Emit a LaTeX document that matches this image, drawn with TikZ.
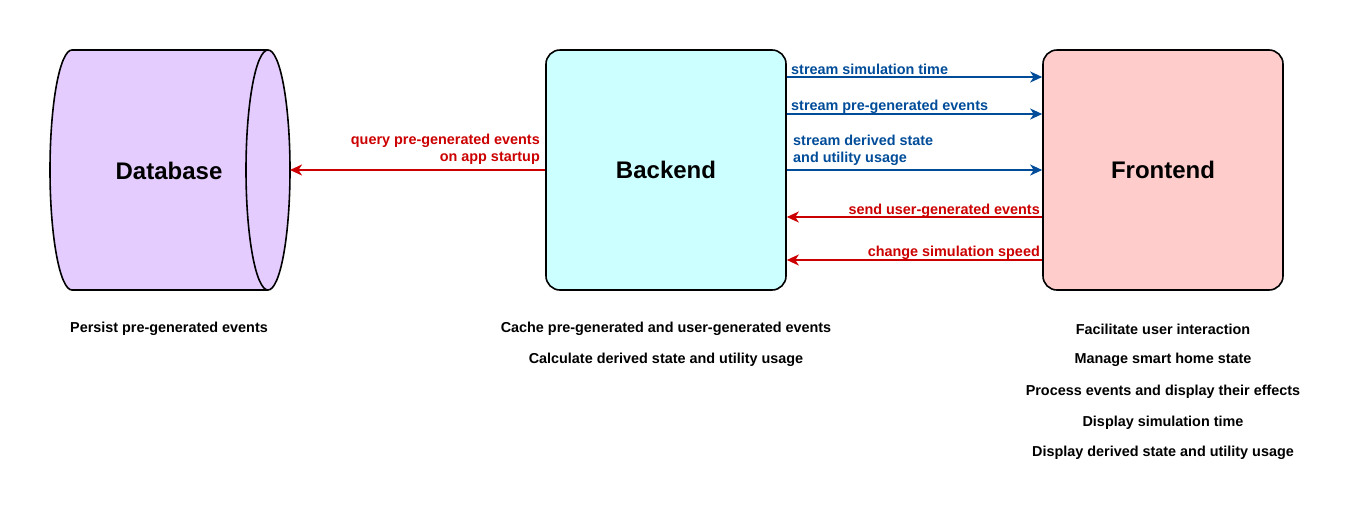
\documentclass[tikz,border=0pt]{standalone}
\usepackage{fontspec}
\setmainfont{Liberation Sans}
\usetikzlibrary{arrows.meta}
\definecolor{dbfill}{HTML}{E5CCFF}
\definecolor{befill}{HTML}{CCFFFF}
\definecolor{fefill}{HTML}{FFCCCC}
\definecolor{blueline}{HTML}{004C99}
\definecolor{redline}{HTML}{CC0000}
\tikzset{
  box/.style={draw=black, line width=1.6pt, rounded corners=14pt, minimum width=240pt, minimum height=240pt, inner sep=0pt, font=\bfseries\fontsize{24}{28}\selectfont},
  conn/.style={line width=1.8pt, -{Stealth[length=12pt, width=11pt, inset=3.5pt]}},
  bl/.style={conn, draw=blueline},
  rd/.style={conn, draw=redline},
  lblb/.style={text=blueline, font=\bfseries\fontsize{14.4}{17}\selectfont, inner sep=0pt, align=left},
  lblr/.style={text=redline, font=\bfseries\fontsize{14.4}{17}\selectfont, inner sep=0pt, align=right},
  desc/.style={font=\bfseries\fontsize{14.4}{17}\selectfont, inner sep=0pt}
}
\begin{document}
\begin{tikzpicture}[x=1pt, y=-1pt]
\useasboundingbox (0,0) rectangle (1351,512);
% Database cylinder
\filldraw[fill=dbfill, draw=black, line width=1.6pt]
  (72,50) -- (268,50) arc[start angle=90, end angle=-90, x radius=22pt, y radius=120pt]
  -- (72,290) arc[start angle=-90, end angle=-270, x radius=22pt, y radius=120pt] -- cycle;
\draw[black, line width=1.6pt] (268,50) arc[start angle=90, end angle=270, x radius=22pt, y radius=120pt];
\node[font=\bfseries\fontsize{24}{28}\selectfont] (db) at (169,171) {Database};
\coordinate (dbr) at (290,170);
% boxes
\node[box, fill=befill] (be) at (666,170) {\raisebox{-1pt}{Backend}};
\node[box, fill=fefill] (fe) at (1163,170) {\raisebox{-1pt}{Frontend}};
% arrows
\draw[rd] (be.west) -- (dbr);
\node[lblr, anchor=south east] (q) at (540,165) {query pre-generated events\\on app startup};

\draw[bl] ([yshift=93pt]be.east) -- ([yshift=93pt]fe.west);
\node[lblb, anchor=base west] (l1) at (791,74) {stream simulation time};
\draw[bl] ([yshift=56pt]be.east) -- ([yshift=56pt]fe.west);
\node[lblb, anchor=base west] (l2) at (791,110) {stream pre-generated events};
\draw[bl] (be.east) -- (fe.west);
\node[lblb, anchor=south west] (l3) at (793,166) {stream derived state\\and utility usage};
\draw[rd] ([yshift=-47pt]fe.west) -- ([yshift=-47pt]be.east);
\node[lblr, anchor=base east] (l4) at (1040,214) {send user-generated events};
\draw[rd] ([yshift=-90pt]fe.west) -- ([yshift=-90pt]be.east);
\node[lblr, anchor=base east] (l5) at (1040,256) {change simulation speed};
% descriptions
\node[desc] (d1) at (169,329) {Persist pre-generated events};
\node[desc] (d2) at (666,329) {Cache pre-generated and user-generated events};
\node[desc] (d3) at (666,360) {Calculate derived state and utility usage};
\node[desc] (d4) at (1163,329) {Facilitate user interaction};
\node[desc] (d5) at (1163,360) {Manage smart home state};
\node[desc] (d6) at (1163,392) {Process events and display their effects};
\node[desc] (d7) at (1163,423) {Display simulation time};
\node[desc] (d8) at (1163,453) {Display derived state and utility usage};
\end{tikzpicture}
\end{document}
